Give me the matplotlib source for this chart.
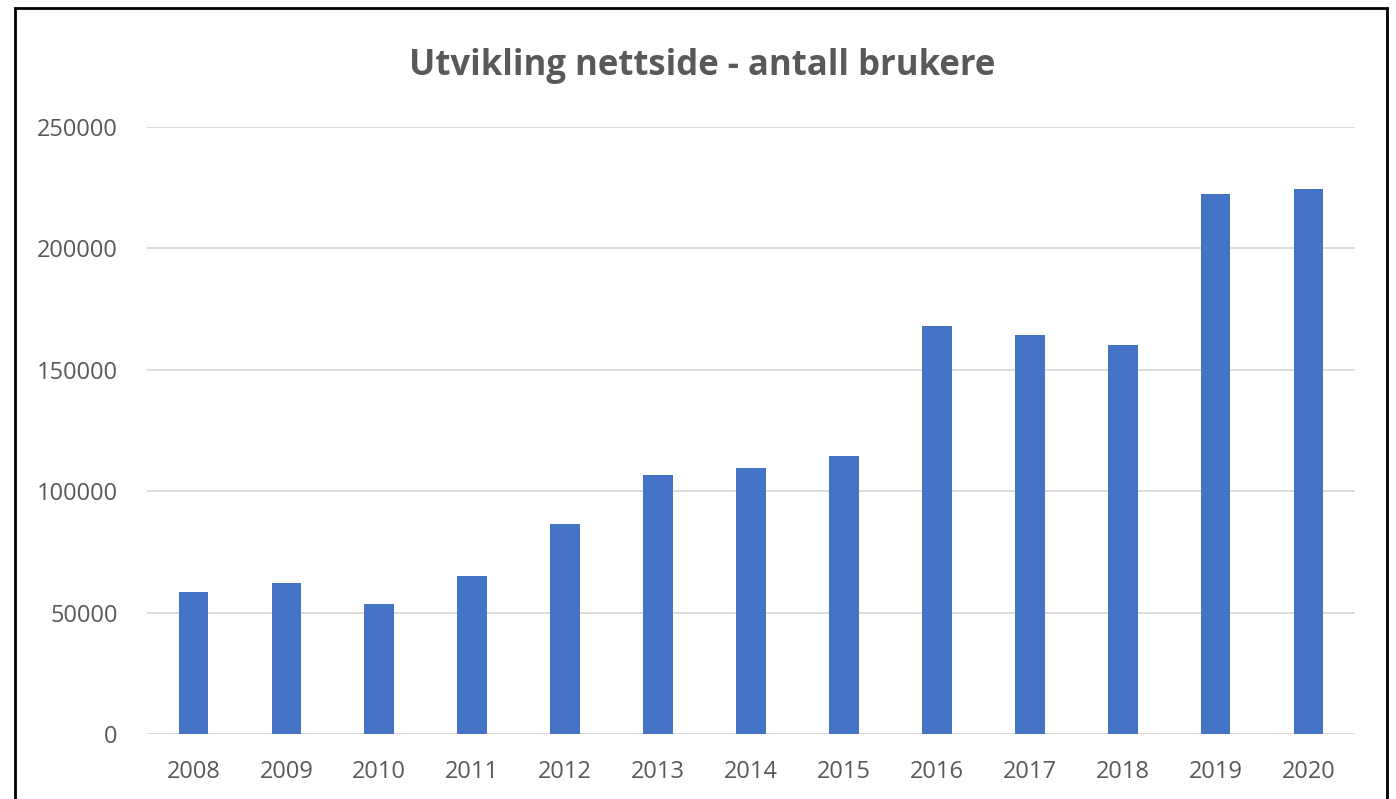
import matplotlib
matplotlib.use('Agg')
import matplotlib.pyplot as plt
from matplotlib.patches import Rectangle

years = ['2008', '2009', '2010', '2011', '2012', '2013', '2014',
         '2015', '2016', '2017', '2018', '2019', '2020']
users = [58400, 62300, 53700, 65200, 86600, 106800, 109700,
         114700, 167900, 164200, 160100, 222500, 224300]
y_ticks = [0, 50000, 100000, 150000, 200000, 250000]

plt.rcParams['font.family'] = ['Open Sans', 'DejaVu Sans']
grey = '#595959'

fig = plt.figure(figsize=(13.96, 7.99), dpi=100)
ax = fig.add_axes([0.1053, 0.0814, 0.8653, 0.7596])

ax.bar(range(len(years)), users, width=0.32, color='#4472c4', zorder=3)
ax.set_xlim(-0.5, len(years) - 0.5)
ax.set_ylim(0, 250000)
ax.set_xticks(range(len(years)))
ax.set_xticklabels(years)
ax.set_yticks(y_ticks)
ax.set_yticklabels([str(t) for t in y_ticks])
ax.tick_params(axis='both', length=0, labelsize=17, labelcolor=grey)
ax.tick_params(axis='y', pad=21)
ax.tick_params(axis='x', pad=19)
ax.grid(axis='y', color='#d9d9d9', linewidth=1.3, zorder=0)
for s in ax.spines.values():
    s.set_visible(False)

fig.text(0.503, 0.918, 'Utvikling nettside - antall brukere', ha='center',
         va='center', fontsize=25, fontweight='bold', color=grey)

# outer frame of the chart
fig.patches.append(Rectangle((15 / 1396, -0.05), (1387 - 15) / 1396, 1.05 - 8 / 799,
                             transform=fig.transFigure, fill=False,
                             edgecolor='black', linewidth=2))

fig.savefig('out.png', dpi=100)
